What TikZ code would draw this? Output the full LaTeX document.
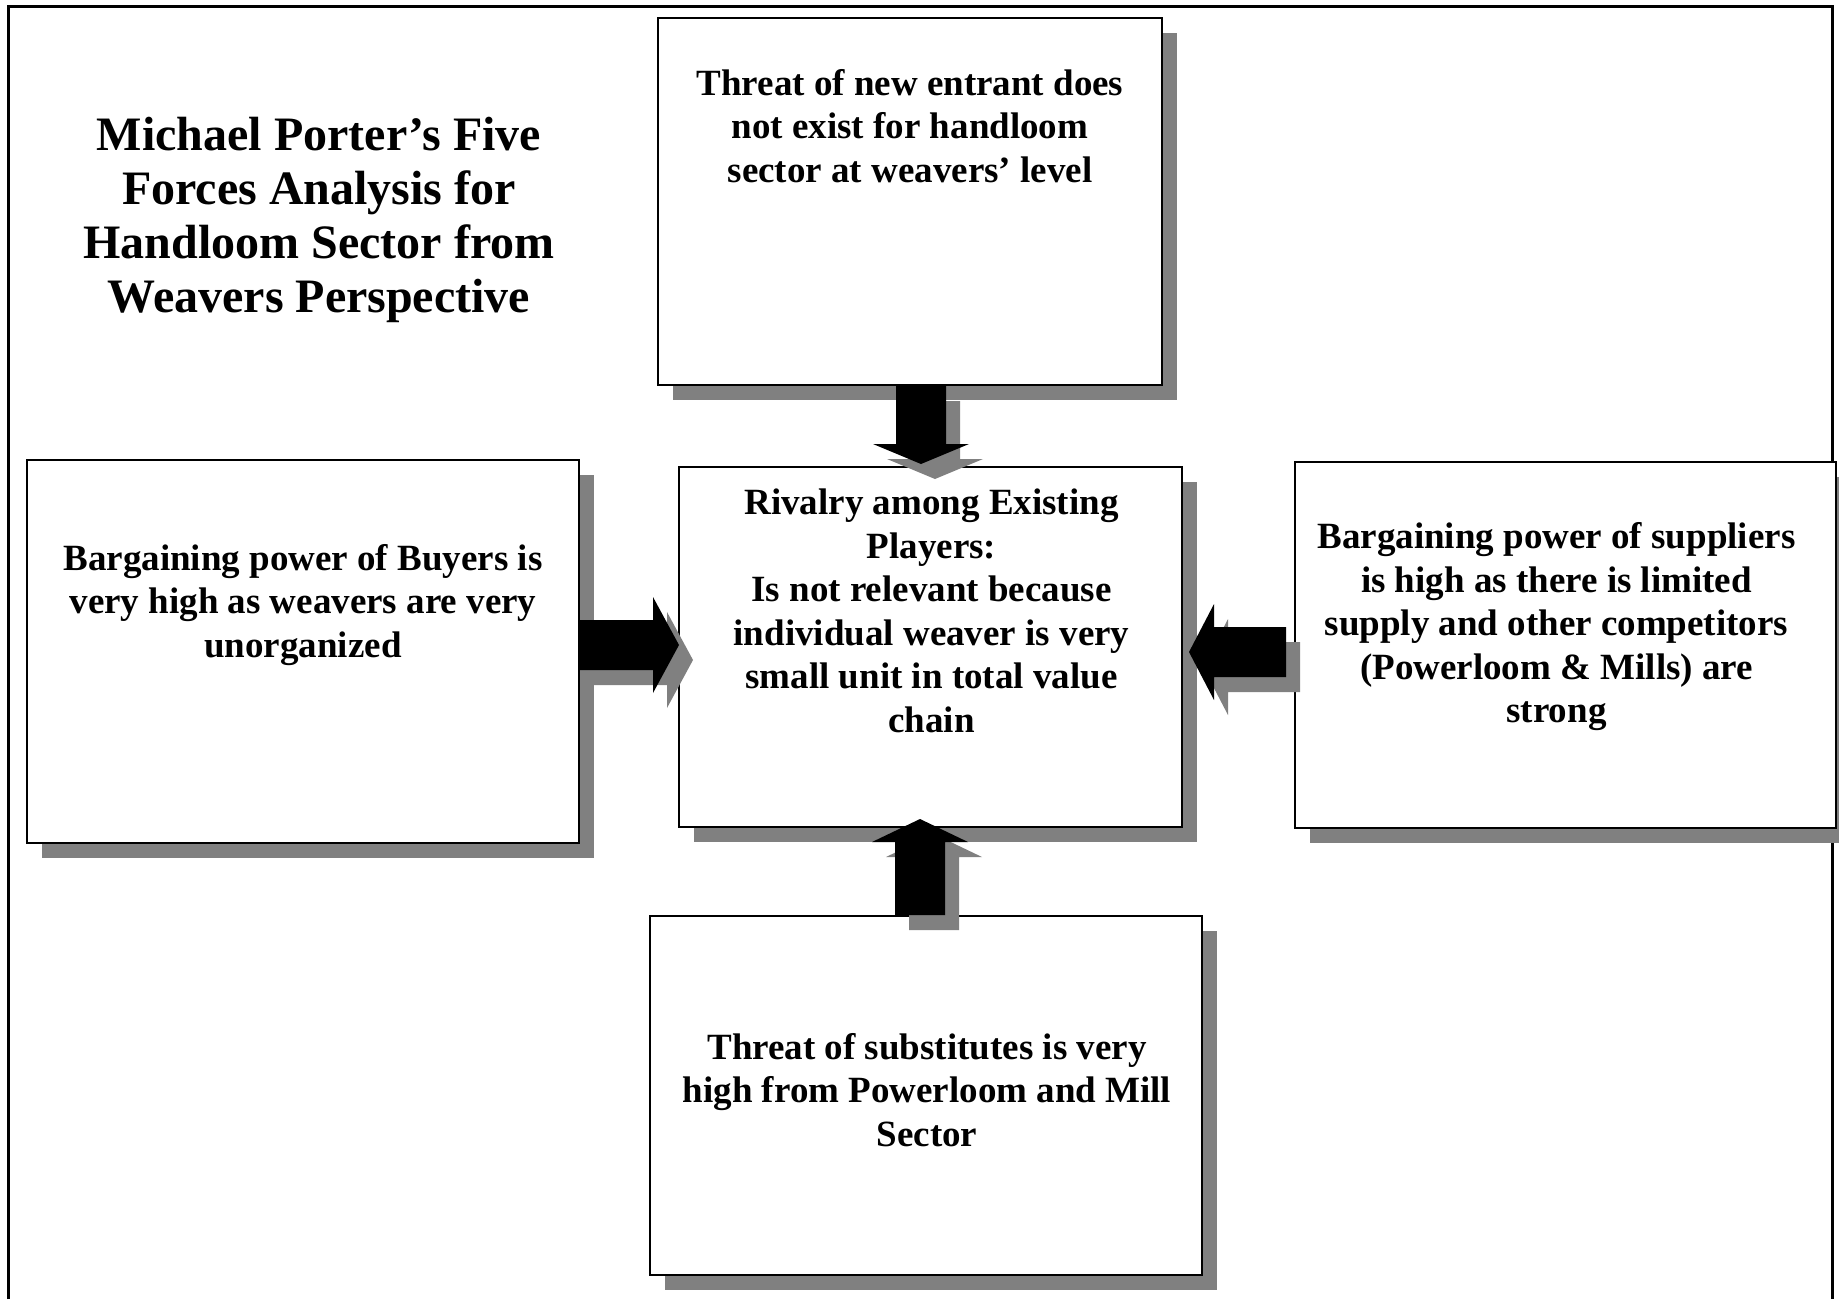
\documentclass[tikz,border=0pt]{standalone}
\usepackage{fontspec}
\setmainfont{Liberation Serif}
\usetikzlibrary{calc,shadows}
\definecolor{shadowgray}{RGB}{128,128,128}

% fat block arrow: #1 start coordinate, #2 direction angle, #3 total length,
% #4 head length, #5 extra style (colour, shadow offset)
\newcommand{\fatarrow}[5]{%
  \fill[shift={(#1)}, #5, rotate=#2]
    (0,-25) -- ({#3-#4},-25) -- ({#3-#4},-48) -- (#3,0)
    -- ({#3-#4},48) -- ({#3-#4},25) -- (0,25) -- cycle;}

\begin{document}
\begin{tikzpicture}[x=1pt, y=1pt,
  forcebox/.style={draw=black, line width=2pt, fill=white, inner sep=0pt,
    drop shadow={shadow xshift=15pt, shadow yshift=-15pt, fill=shadowgray, opacity=1}},
  forcetext/.style={font=\fontsize{37}{43.5}\selectfont\bfseries, align=center, inner sep=0pt},
  titletext/.style={font=\fontsize{48}{54}\selectfont\bfseries, align=center, inner sep=0pt},
  arrowshadow/.style={fill=shadowgray, xshift=14pt, yshift=-15pt},
  arrowbody/.style={fill=black}]
\useasboundingbox (0,0) rectangle (1839,-1299);

% outer frame, open at the bottom
\draw[line width=3pt] (8,-1299) -- (8,-6) -- (1832,-6) -- (1832,-1299);

% title
\node[titletext] (title) at (319,-220)
  {Michael Porter’s Five\\Forces Analysis for\\Handloom Sector from\\Weavers Perspective};

% the five force boxes
\node[forcebox, minimum width=504pt, minimum height=367pt] (entrant) at (910,-201.5) {};
\node[forcebox, minimum width=503pt, minimum height=360pt] (rivalry) at (930.5,-647) {};
\node[forcebox, minimum width=552pt, minimum height=383pt] (buyers) at (303,-651.5) {};
\node[forcebox, minimum width=541pt, minimum height=366pt] (suppliers) at (1565.5,-645) {};
\node[forcebox, minimum width=552pt, minimum height=359pt] (substitutes) at (926,-1095.5) {};

% box texts
\node[forcetext] (entrantText) at ($(entrant.north)+(0,-109)$)
  {Threat of new entrant does\\not exist for handloom\\sector at weavers’ level};
\node[forcetext] (rivalryText) at ($(rivalry.north)+(1,-145)$)
  {Rivalry among Existing\\Players:\\Is not relevant because\\individual weaver is very\\small unit in total value\\chain};
\node[forcetext] (buyersText) at ($(buyers.north)+(0,-146)$)
  {Bargaining power of Buyers is\\very high as weavers are very\\unorganized};
\node[forcetext] (suppliersText) at ($(suppliers.north)+(-9,-166)$)
  {Bargaining power of suppliers\\is high as there is limited\\supply and other competitors\\(Powerloom \& Mills) are\\strong};
\node[forcetext] (substitutesText) at ($(substitutes.north)+(1,-175)$)
  {Threat of substitutes is very\\high from Powerloom and Mill\\Sector};

% arrow start points on the outer boxes
\coordinate (fromEntrant) at ($(entrant.south)+(11,0)$);
\coordinate (fromBuyers) at ($(buyers.east |- rivalry.center)+(0,2)$);
\coordinate (fromSuppliers) at ($(suppliers.west |- rivalry.center)+(-8,-5)$);
\coordinate (fromSubstitutes) at ($(substitutes.north)+(-6,0)$);

% arrow shadows
\fatarrow{fromEntrant}{-90}{78}{20}{arrowshadow}
\fatarrow{fromBuyers}{0}{99}{26}{arrowshadow}
\fatarrow{fromSuppliers}{180}{97}{25}{arrowshadow}
\fatarrow{fromSubstitutes}{90}{96}{23}{arrowshadow}

% arrows into the rivalry box
\fatarrow{fromEntrant}{-90}{78}{20}{arrowbody}
\fatarrow{fromBuyers}{0}{99}{26}{arrowbody}
\fatarrow{fromSuppliers}{180}{97}{25}{arrowbody}
\fatarrow{fromSubstitutes}{90}{96}{23}{arrowbody}
\end{tikzpicture}
\end{document}
